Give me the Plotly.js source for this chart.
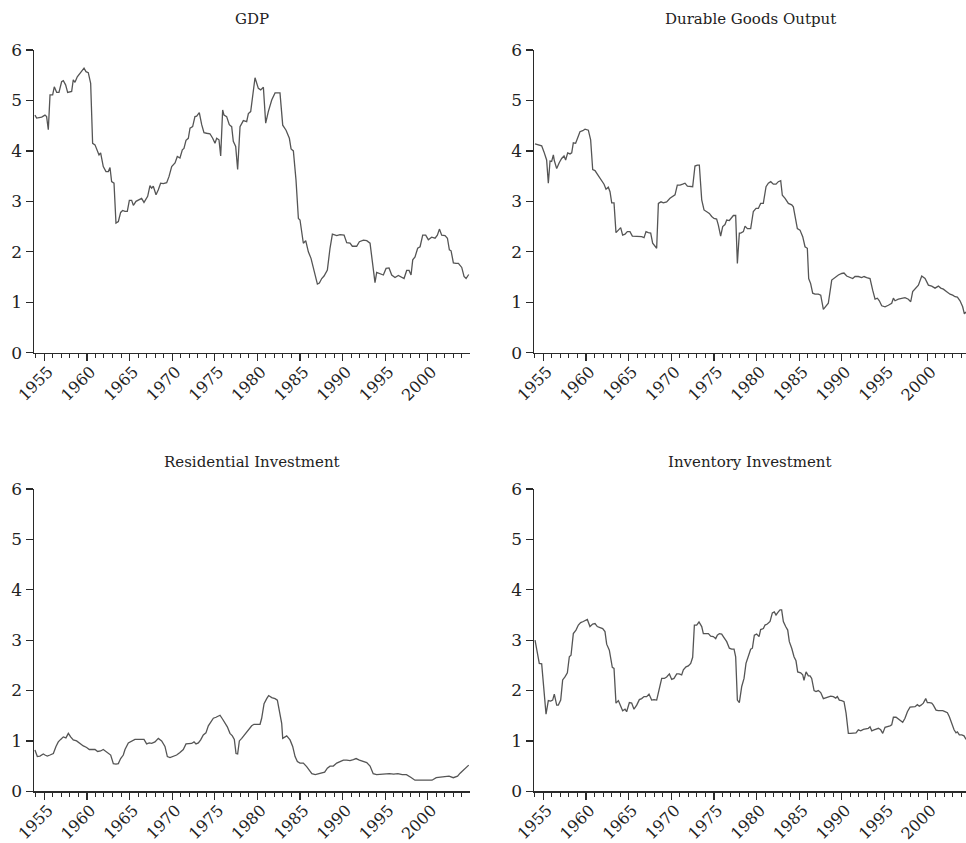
<!DOCTYPE html>
<html>
<head>
<meta charset="utf-8">
<script src="https://cdn.plot.ly/plotly-3.0.1.min.js"></script>
<style>html,body{margin:0;padding:0;background:#fff}#chart{width:966px;height:843px}</style>
</head>
<body>
<div id="chart"></div>
<script>
// Panel titles
const panelTitles = ["GDP", "Durable Goods Output", "Residential Investment", "Inventory Investment"];
const xTickYears = [1955, 1960, 1965, 1970, 1975, 1980, 1985, 1990, 1995, 2000];
const yTickValues = [0, 1, 2, 3, 4, 5, 6];

// GDP
const gdpYears = [1953.90,1954.10,1954.69,1955.08,1955.27,1955.47,1955.67,1955.98,1956.17,1956.45,
1956.72,1957.03,1957.23,1957.50,1957.74,1958.01,1958.21,1958.40,1958.60,1958.87,
1959.19,1959.66,1959.89,1960.16,1960.44,1960.67,1960.95,1961.14,1961.42,1961.61,
1961.92,1962.24,1962.51,1962.71,1962.90,1963.18,1963.41,1963.69,1963.96,1964.19,
1964.47,1964.74,1964.98,1965.25,1965.45,1965.76,1966.03,1966.42,1966.70,1966.93,
1967.13,1967.40,1967.60,1967.79,1968.11,1968.38,1968.65,1968.97,1969.36,1969.63,
1969.95,1970.34,1970.61,1970.92,1971.20,1971.39,1971.63,1971.90,1972.10,1972.41,
1972.68,1972.88,1973.19,1973.47,1973.74,1974.05,1974.44,1974.76,1975.03,1975.23,
1975.50,1975.70,1975.93,1976.09,1976.40,1976.71,1976.99,1977.18,1977.46,1977.69,
1977.97,
1978.36,1978.75,1978.95,1979.22,1979.73,1980.12,1980.40,1980.71,1980.98,1981.29,
1981.69,1982.08,1982.66,1982.98,1983.37,1983.76,1983.96,1984.23,1984.54,1984.82,
1985.01,1985.21,1985.40,1985.68,1985.99,1986.30,1986.66,1987.05,1987.28,1987.56,
1987.83,1988.22,1988.53,1988.81,1989.32,1989.71,1990.18,1990.49,1990.88,1991.15,
1991.66,1991.98,1992.45,1992.84,1993.23,1993.54,1993.81,1994.01,1994.40,1994.79,
1995.11,1995.46,1995.77,1996.16,1996.55,1996.94,1997.22,1997.53,1997.81,1998.04,
1998.24,1998.51,1998.82,1999.10,1999.41,1999.76,2000.07,2000.46,2000.86,2001.13,
2001.37,2001.64,2002.03,2002.31,2002.54,2002.74,2003.01,2003.32,2003.60,2003.99,
2004.26,2004.50,2004.81];
const gdpValues = [4.71,4.65,4.67,4.71,4.68,4.42,5.11,5.11,5.27,5.16,
5.16,5.37,5.39,5.31,5.16,5.18,5.18,5.41,5.36,5.47,
5.54,5.64,5.57,5.55,5.34,4.15,4.12,4.02,3.92,3.96,
3.69,3.59,3.59,3.67,3.39,3.36,2.57,2.60,2.78,2.82,
2.80,2.80,3.02,3.02,2.92,3.00,3.02,3.06,2.98,3.06,
3.10,3.31,3.26,3.30,3.13,3.23,3.36,3.35,3.37,3.49,
3.69,3.76,3.89,3.86,4.02,4.05,4.21,4.25,4.45,4.48,
4.68,4.69,4.76,4.52,4.36,4.35,4.34,4.25,4.15,4.25,
4.22,3.90,4.81,4.71,4.68,4.52,4.48,4.19,4.09,3.63,
4.48,
4.60,4.58,4.74,4.78,5.45,5.24,5.21,5.26,4.55,4.78,
5.01,5.15,5.15,4.51,4.41,4.25,4.04,4.00,3.42,2.66,
2.63,2.37,2.17,2.22,2.00,1.87,1.61,1.36,1.38,1.47,
1.52,1.64,2.07,2.35,2.32,2.34,2.33,2.18,2.17,2.11,
2.11,2.20,2.23,2.22,2.17,1.77,1.39,1.59,1.56,1.54,
1.67,1.68,1.54,1.49,1.53,1.49,1.47,1.63,1.63,1.54,
1.84,1.90,2.07,2.10,2.33,2.33,2.24,2.29,2.27,2.33,
2.45,2.33,2.32,2.27,2.04,2.02,1.78,1.77,1.77,1.69,
1.51,1.47,1.55];

// Durable goods output
const durableYears = [1954.03,1954.42,1954.81,1955.08,1955.39,1955.59,1955.79,1955.98,1956.18,1956.29,
1956.57,1956.88,1957.15,1957.43,1957.62,1957.86,1958.13,1958.33,1958.52,1958.79,
1958.99,1959.30,1959.62,1959.89,1960.28,1960.55,1960.79,1961.06,1961.33,1961.65,
1961.92,1962.12,1962.35,1962.62,1962.82,1963.02,1963.29,1963.52,1963.80,1964.07,
1964.30,1964.58,1964.85,1965.16,1965.44,1965.75,1966.14,1966.53,1966.81,1967.04,
1967.31,1967.59,1967.82,1968.10,1968.29,1968.49,1968.80,1969.07,1969.46,1969.85,
1970.17,1970.44,1970.71,1971.03,1971.34,1971.61,1971.89,1972.20,1972.51,1972.78,
1973.06,1973.29,1973.57,1973.84,1974.15,1974.46,1974.74,1975.01,1975.32,1975.52,
1975.79,1976.03,1976.30,1976.50,1976.81,1976.97,1977.28,1977.55,1977.75,1977.98,
1978.14,1978.45,1978.65,1978.92,1979.31,1979.62,1979.94,1980.21,1980.48,1980.79,
1981.11,1981.38,1981.66,1981.97,1982.28,1982.55,1982.83,1983.02,1983.34,1983.73,
1984.12,1984.31,1984.51,1984.78,1985.09,1985.41,1985.68,1985.95,1986.11,1986.34,
1986.58,1986.85,1987.24,1987.52,1987.83,1988.14,1988.41,1988.81,1989.20,1989.59,
1989.98,1990.25,1990.56,1990.96,1991.27,1991.54,1991.93,1992.32,1992.60,1992.91,
1993.30,1993.61,1993.89,1994.16,1994.39,1994.67,1995.06,1995.45,1995.84,1996.04,
1996.23,1996.62,1997.01,1997.40,1997.79,1998.07,1998.30,1998.58,1998.97,1999.36,
1999.75,2000.14,2000.53,2000.92,2001.31,2001.59,2001.90,2002.29,2002.68,2002.99,
2003.27,2003.54,2003.85,2004.16,2004.36,2004.56];
const durableValues = [4.14,4.12,4.10,3.98,3.82,3.36,3.80,3.79,3.92,3.81,
3.65,3.77,3.85,3.90,3.82,3.96,3.94,3.96,4.16,4.15,
4.25,4.38,4.40,4.43,4.41,4.22,3.63,3.61,3.54,3.46,
3.37,3.34,3.24,3.28,3.19,2.97,2.97,2.38,2.43,2.48,
2.33,2.35,2.40,2.40,2.31,2.31,2.31,2.30,2.28,2.40,
2.38,2.37,2.17,2.10,2.07,2.96,2.99,2.97,2.99,3.06,
3.09,3.13,3.32,3.32,3.34,3.36,3.30,3.29,3.29,3.70,
3.72,3.72,3.03,2.83,2.79,2.76,2.70,2.66,2.65,2.53,
2.31,2.50,2.54,2.63,2.62,2.66,2.72,2.72,1.77,2.37,
2.37,2.40,2.51,2.46,2.46,2.80,2.86,2.86,2.96,2.96,
3.29,3.36,3.39,3.34,3.34,3.39,3.41,3.12,3.06,2.96,
2.93,2.89,2.70,2.46,2.43,2.30,2.10,2.07,1.47,1.37,
1.18,1.16,1.16,1.14,0.86,0.93,0.98,1.44,1.49,1.54,
1.57,1.58,1.52,1.49,1.47,1.51,1.51,1.49,1.51,1.49,
1.47,1.24,1.06,1.08,1.03,0.93,0.91,0.94,0.98,1.08,
1.03,1.06,1.08,1.09,1.06,1.01,1.21,1.26,1.34,1.52,
1.47,1.34,1.32,1.28,1.32,1.28,1.26,1.21,1.16,1.14,
1.11,1.10,1.03,0.91,0.77,0.81];

// Residential investment
const residentialYears = [1953.90,1954.18,1954.49,1954.88,1955.08,1955.35,1955.67,1956.06,1956.37,1956.64,
1956.92,1957.23,1957.54,1957.82,1958.09,1958.40,1958.79,1959.19,1959.58,1959.97,
1960.28,1960.56,1960.95,1961.26,1961.61,1961.92,1962.24,1962.51,1962.79,1963.10,
1963.41,1963.69,1963.96,1964.27,1964.47,1964.86,1965.25,1965.64,1966.03,1966.42,
1966.70,1967.01,1967.32,1967.60,1967.99,1968.38,1968.77,1969.16,1969.44,1969.75,
1970.14,1970.53,1970.92,1971.31,1971.63,1971.90,1972.29,1972.57,1972.80,1973.08,
1973.35,1973.66,1973.97,1974.25,1974.52,1974.84,1975.15,1975.42,1975.62,1975.93,
1976.21,1976.48,1976.79,1977.07,1977.30,1977.50,1977.69,1977.89,1978.17,1978.48,
1978.75,1979.06,1979.34,1979.61,1979.92,
1980.32,1980.51,1980.79,1981.10,1981.33,1981.69,1982.08,1982.35,1982.59,1982.86,
1982.98,1983.25,1983.45,1983.84,1984.15,1984.43,1984.70,1985.01,1985.40,1985.79,
1986.10,1986.40,1986.80,1987.20,1987.60,1987.90,
1988.22,1988.53,1988.92,1989.32,1989.71,1990.10,1990.49,1990.88,1991.27,1991.59,
1991.98,1992.37,1992.84,1993.23,1993.42,
1993.60,1994.00,1994.50,1995.00,1995.50,1996.00,1996.50,1997.00,1997.50,1998.00,
1998.50,1999.00,1999.50,2000.00,2000.50,2001.00,2001.50,2002.00,2002.50,2003.00,
2003.50,2003.80,2004.26,2004.81];
const residentialValues = [0.82,0.69,0.70,0.74,0.72,0.70,0.72,0.75,0.89,0.98,
1.03,1.08,1.06,1.15,1.08,1.02,1.00,0.95,0.90,0.87,
0.83,0.83,0.83,0.79,0.80,0.83,0.79,0.77,0.72,0.55,
0.54,0.55,0.65,0.72,0.83,0.96,1.00,1.03,1.03,1.03,
1.03,0.94,0.96,0.95,0.98,1.05,1.00,0.89,0.69,0.67,
0.70,0.72,0.77,0.83,0.94,0.95,0.95,0.98,0.94,0.96,
1.02,1.12,1.16,1.30,1.36,1.45,1.47,1.49,1.51,1.43,
1.35,1.28,1.15,1.10,1.03,0.75,0.74,1.00,1.05,1.12,
1.18,1.23,1.30,1.33,1.33,
1.33,1.45,1.74,1.84,1.90,1.86,1.84,1.81,1.61,1.35,
1.05,1.08,1.10,1.02,0.89,0.69,0.59,0.56,0.56,0.49,
0.42,0.35,0.33,0.35,0.36,0.38,
0.46,0.50,0.50,0.56,0.59,0.62,0.62,0.61,0.63,0.65,
0.62,0.59,0.57,0.50,0.42,
0.35,0.33,0.34,0.34,0.35,0.34,0.35,0.33,0.33,0.28,
0.22,0.22,0.22,0.23,0.22,0.27,0.28,0.29,0.30,0.27,
0.30,0.36,0.44,0.52];

// Inventory investment
const inventoryYears = [1954.03,1954.30,1954.53,1954.81,1955.00,1955.20,1955.32,1955.59,1955.86,1956.10,
1956.29,1956.57,1956.76,1957.04,1957.27,1957.54,1957.82,1958.05,1958.25,1958.52,
1958.83,1959.11,1959.38,1959.69,1960.01,1960.16,1960.47,1960.79,1961.06,1961.33,
1961.65,1961.96,1962.23,1962.43,1962.74,1962.90,1963.09,1963.29,1963.52,1963.80,
1964.07,1964.30,1964.58,1964.77,1965.09,1965.36,1965.63,1965.95,1966.26,1966.53,
1966.81,1967.12,1967.39,1967.70,1967.98,1968.29,1968.56,1968.88,1969.19,1969.46,
1969.78,1970.05,1970.32,1970.64,1970.91,1971.22,1971.42,1971.73,1972.00,1972.28,
1972.51,1972.71,1972.98,1973.25,1973.57,1973.76,1974.07,1974.35,1974.62,1974.93,
1975.21,1975.40,1975.64,1975.91,1976.18,1976.50,1976.81,1977.08,1977.36,1977.55,
1977.75,1977.98,
1978.26,1978.53,1978.76,1979.04,1979.31,1979.51,1979.74,1980.01,1980.29,1980.48,
1980.80,1980.99,1981.26,1981.58,1981.85,1982.08,1982.28,1982.55,1982.75,1982.94,
1983.14,1983.41,1983.65,1983.84,1984.12,1984.39,1984.62,1984.82,1985.17,1985.41,
1985.56,1985.80,1986.07,1986.27,1986.46,1986.74,1986.97,1987.24,1987.52,1987.83,
1988.14,1988.41,1988.69,1989.00,1989.28,1989.47,1989.70,1989.98,1990.25,1990.49,
1990.76,1991.03,1991.35,1991.66,1991.93,1992.21,1992.52,1992.83,1993.10,1993.30,
1993.50,1993.77,1994.00,1994.28,1994.55,1994.79,1995.06,1995.33,1995.64,1995.84,
1996.04,1996.35,1996.62,1996.90,1997.13,1997.40,1997.68,1997.99,1998.30,1998.58,
1998.85,1999.08,1999.28,1999.55,1999.83,2000.02,2000.26,2000.53,2000.72,2001.04,
2001.31,2001.59,2001.82,2002.09,2002.37,2002.60,2002.87,2003.15,2003.38,2003.54,
2003.77,2004.05,2004.32,2004.56];
const inventoryValues = [3.00,2.77,2.54,2.53,2.21,1.81,1.53,1.80,1.79,1.81,
1.93,1.71,1.71,1.81,2.21,2.27,2.35,2.67,2.70,3.13,
3.20,3.30,3.35,3.37,3.40,3.41,3.27,3.32,3.33,3.27,
3.25,3.23,3.17,2.92,2.80,2.67,2.46,2.44,1.75,1.80,
1.69,1.60,1.63,1.58,1.76,1.75,1.63,1.71,1.82,1.84,
1.88,1.88,1.93,1.81,1.82,1.81,2.01,2.24,2.24,2.27,
2.33,2.22,2.24,2.33,2.33,2.31,2.41,2.47,2.49,2.54,
2.66,3.30,3.30,3.36,3.27,3.13,3.13,3.13,3.08,3.07,
3.03,3.10,3.13,3.12,3.05,2.97,2.84,2.82,2.82,2.67,
1.81,1.76,
2.08,2.24,2.54,2.70,2.82,2.84,3.10,3.12,3.07,3.21,
3.23,3.30,3.32,3.37,3.54,3.56,3.50,3.56,3.60,3.60,
3.37,3.27,3.20,2.97,2.84,2.67,2.59,2.37,2.35,2.31,
2.20,2.37,2.29,2.29,2.24,2.00,1.98,2.00,1.96,1.84,
1.86,1.88,1.89,1.88,1.85,1.88,1.81,1.80,1.78,1.55,
1.15,1.15,1.16,1.16,1.22,1.20,1.23,1.24,1.25,1.28,
1.20,1.22,1.23,1.25,1.22,1.15,1.27,1.28,1.30,1.32,
1.47,1.47,1.44,1.40,1.37,1.45,1.58,1.67,1.68,1.68,
1.72,1.69,1.71,1.75,1.84,1.76,1.76,1.75,1.71,1.61,
1.60,1.60,1.60,1.58,1.56,1.48,1.33,1.22,1.16,1.18,
1.12,1.12,1.10,1.03];

const W = 966, H = 843;
const FONT = "DejaVu Serif, Liberation Serif, serif";
const AXIS_COLOR = "#2a2a2a";
const LINE_COLOR = "#555555";

// pixel geometry of panels
const leftDom = [34 / W, 470 / W];
const rightDom = [534 / W, 966 / W];
const topDom = [1 - 352.7 / H, 1 - 50 / H];
const botDom = [1 - 791.3 / H, 1 - 489 / H];
const leftRange = [1953.79, 2004.96];
const rightRange = [1953.91, 2004.55];

function xAxis(domain, range, anchor) {
  return {
    domain: domain, range: range, anchor: anchor,
    showline: true, linecolor: AXIS_COLOR, linewidth: 1.4,
    showgrid: false, zeroline: false,
    tickmode: "array", tickvals: xTickYears, ticktext: xTickYears.map(String),
    ticks: "outside", ticklen: 7, tickwidth: 1.2, tickcolor: AXIS_COLOR,
    tickangle: -45,
    ticklabelstandoff: -5,
    ticklabelshift: 4,
    tickfont: { family: FONT, size: 16, color: "#222" },
    minor: { tickmode: "linear", tick0: 1955, dtick: 1, ticks: "outside", ticklen: 4, tickwidth: 1, tickcolor: AXIS_COLOR, showgrid: false },
    fixedrange: true
  };
}
function yAxis(domain, anchor) {
  return {
    domain: domain, range: [0, 6], anchor: anchor,
    showline: true, linecolor: AXIS_COLOR, linewidth: 1.4,
    showgrid: false, zeroline: false,
    tickmode: "array", tickvals: yTickValues,
    ticks: "outside", ticklen: 7, tickwidth: 1.2, tickcolor: AXIS_COLOR,
    tickfont: { family: FONT, size: 17, color: "#222" },
    fixedrange: true
  };
}

const seriesX = [gdpYears, durableYears, residentialYears, inventoryYears];
const seriesY = [gdpValues, durableValues, residentialValues, inventoryValues];
const traces = seriesX.map((xs, i) => ({
  type: "scatter", mode: "lines",
  x: xs, y: seriesY[i],
  xaxis: i === 0 ? "x" : "x" + (i + 1),
  yaxis: i === 0 ? "y" : "y" + (i + 1),
  line: { color: LINE_COLOR, width: 1.3 },
  hoverinfo: "skip", showlegend: false
}));

const titleY = [1 - 19 / H, 1 - 19 / H, 1 - 462 / H, 1 - 462 / H];
const titleX = [(34 + 470) / 2 / W, (534 + 966) / 2 / W, (34 + 470) / 2 / W, (534 + 966) / 2 / W];
const annotations = panelTitles.map((t, i) => ({
  text: t, xref: "paper", yref: "paper", x: titleX[i], y: titleY[i],
  xanchor: "center", yanchor: "middle", showarrow: false,
  font: { family: FONT, size: 15, color: "#222" }
}));

const layout = {
  width: W, height: H,
  margin: { l: 0, r: 0, t: 0, b: 0 },
  paper_bgcolor: "#fff", plot_bgcolor: "#fff",
  showlegend: false,
  xaxis: xAxis(leftDom, leftRange, "y"),
  yaxis: yAxis(topDom, "x"),
  xaxis2: xAxis(rightDom, rightRange, "y2"),
  yaxis2: yAxis(topDom, "x2"),
  xaxis3: xAxis(leftDom, leftRange, "y3"),
  yaxis3: yAxis(botDom, "x3"),
  xaxis4: xAxis(rightDom, rightRange, "y4"),
  yaxis4: yAxis(botDom, "x4"),
  annotations: annotations
};

Plotly.newPlot("chart", traces, layout, { displayModeBar: false, staticPlot: true });
</script>
</body>
</html>
